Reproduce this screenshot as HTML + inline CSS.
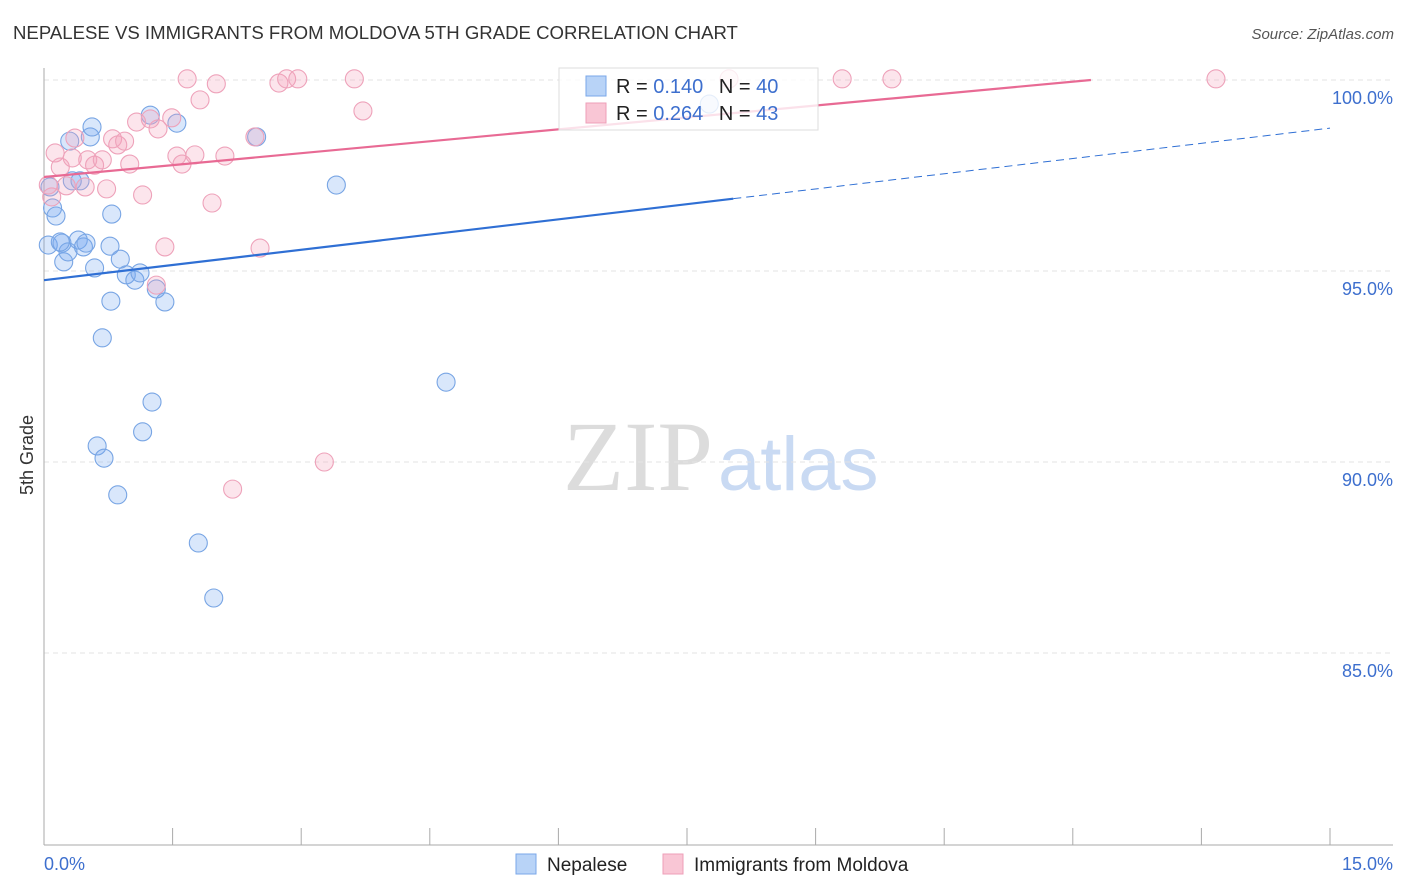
<!DOCTYPE html>
<html><head><meta charset="utf-8"><style>
body{margin:0;background:#fff;font-family:"Liberation Sans",sans-serif;}
svg{display:block}
</style></head><body>
<svg id="c" width="1406" height="892" xmlns="http://www.w3.org/2000/svg">
<text x="13" y="39" font-size="18.6" fill="#333">NEPALESE VS IMMIGRANTS FROM MOLDOVA 5TH GRADE CORRELATION CHART</text>
<text x="1394" y="39" font-size="15" fill="#555" text-anchor="end" font-style="italic">Source: ZipAtlas.com</text>
<text x="713" y="490" font-size="100" fill="#dcdcdc" text-anchor="end" font-family="Liberation Serif, serif">ZIP</text>
<text x="718" y="490" font-size="76" fill="#c9daf3">atlas</text>
<text transform="translate(33,455) rotate(-90)" font-size="18" fill="#333" text-anchor="middle">5th Grade</text>
<g id="grid"></g>
<g id="marks"></g>
<g>
<rect x="559" y="68" width="259" height="62" fill="#fff" fill-opacity="0.8" stroke="#ddd"/>
<rect x="586" y="76" width="20" height="20" fill="#b8d3f7" stroke="#7aa7e8"/>
<rect x="586" y="103" width="20" height="20" fill="#f9c6d5" stroke="#ee9fb8"/>
<text x="616" y="93" font-size="20" fill="#222">R = <tspan fill="#3d6fce">0.140</tspan>  <tspan dx="10">N = </tspan><tspan fill="#3d6fce">40</tspan></text>
<text x="616" y="120" font-size="20" fill="#222">R = <tspan fill="#3d6fce">0.264</tspan>  <tspan dx="10">N = </tspan><tspan fill="#3d6fce">43</tspan></text>
</g>
<g>
<rect x="516" y="854" width="20" height="20" fill="#b8d3f7" stroke="#7aa7e8"/>
<text x="547" y="871" font-size="19" fill="#222">Nepalese</text>
<rect x="663" y="854" width="20" height="20" fill="#f9c6d5" stroke="#ee9fb8"/>
<text x="694" y="871" font-size="19" fill="#222">Immigrants from Moldova</text>
</g>
</svg>
<script>
const yTicks=[100,95,90,85];
const xTickLabels=["0.0%","15.0%"];
const blueX=[0.05,0.07,0.10,0.14,0.21,0.23,0.28,0.30,0.33,0.40,0.42,0.46,0.49,0.54,0.56,0.59,0.62,0.68,0.70,0.77,0.78,0.79,0.86,0.89,0.96,1.06,1.12,1.15,1.24,1.26,1.31,1.41,1.55,1.80,1.98,2.48,3.41,4.69,7.76,0.19];
const blueY=[95.68,97.20,96.65,96.44,95.73,95.24,95.50,98.40,97.36,95.81,97.36,95.63,95.73,98.51,98.77,95.08,90.42,93.25,90.10,95.65,94.21,96.49,89.14,95.31,94.90,94.76,94.95,90.79,99.08,91.57,94.53,94.19,98.87,87.88,86.44,98.51,97.25,92.09,99.37,95.76];
const pinkX=[0.13,0.05,0.09,0.19,0.26,0.33,0.36,0.48,0.51,0.59,0.68,0.73,0.80,0.86,0.94,1.00,1.08,1.15,1.24,1.33,1.41,1.49,1.55,1.61,1.67,1.76,1.82,1.96,2.01,2.11,2.20,2.46,2.52,2.74,2.83,2.96,3.27,3.62,3.72,7.99,9.31,9.89,13.67,1.31];
const pinkY=[98.09,97.25,96.94,97.72,97.23,97.96,98.48,97.20,97.91,97.77,97.91,97.15,98.46,98.30,98.40,97.80,98.90,96.99,98.98,98.72,95.63,99.01,98.01,97.80,100.03,98.04,99.48,96.78,99.90,98.01,89.29,98.51,95.60,99.92,100.03,100.03,90.00,100.03,99.19,100.03,100.03,100.03,100.03,94.63];
const blueTrend=[94.76,98.74];
const blueSolidEnd=8.04;
const pinkTrend=[97.46,0.208];
const NS="http://www.w3.org/2000/svg";
const X=v=>44+v/15*1286, Y=v=>80+(100-v)*38.2;
function mk(t,a,p){const e=document.createElementNS(NS,t);for(const k in a)e.setAttribute(k,a[k]);p.appendChild(e);return e;}
const g=document.getElementById('grid'),m=document.getElementById('marks');
yTicks.forEach(t=>{
 const l=mk('line',{x1:44,x2:1393,y1:Y(t),y2:Y(t),stroke:'#e3e3e3','stroke-dasharray':'5,4'},g);
 
 
 const tx=mk('text',{x:1393,y:Y(t)+24,'font-size':18,fill:'#3d6fce','text-anchor':'end'},g);
 tx.textContent=t.toFixed(1)+'%';
 
 
});
const ax=mk('line',{x1:44,x2:44,y1:68,y2:845,stroke:'#aaa'},g);


const bx=mk('line',{x1:44,x2:1393,y1:845,y2:845,stroke:'#aaa'},g);


for(let i=0;i<=10;i++){const t=mk('line',{x1:X(i*1.5),x2:X(i*1.5),y1:828,y2:845,stroke:'#aaa'},g);
 
 }
xTickLabels.forEach((s,i)=>{const t=mk('text',{x:i?1393:44,y:870,'font-size':18,fill:'#3d6fce','text-anchor':i?'end':'start'},g);t.textContent=s;
 
 });
function dots(xs,ys,fill,stroke,name){xs.forEach((x,i)=>{const c=mk('circle',{cx:X(x),cy:Y(ys[i]),r:9,fill:fill,stroke:stroke,'stroke-width':1.1},m);
 
 });}
dots(blueX,blueY,'rgba(120,170,240,0.28)','#78a5e4','nepalese-point');
dots(pinkX,pinkY,'rgba(245,160,188,0.28)','#eea2ba','moldova-point');
const bv=x=>blueTrend[0]+(blueTrend[1]-blueTrend[0])*x/15;
const b1=mk('line',{x1:X(0),y1:Y(bv(0)),x2:X(blueSolidEnd),y2:Y(bv(blueSolidEnd)),stroke:'#2f6fd4','stroke-width':2.2},m);


const b2=mk('line',{x1:X(blueSolidEnd),y1:Y(bv(blueSolidEnd)),x2:X(15),y2:Y(bv(15)),stroke:'#2f6fd4','stroke-width':1,'stroke-dasharray':'8,5'},m);


const pEnd=Math.min(15,(100-pinkTrend[0])/pinkTrend[1]);
const p1=mk('line',{x1:X(0),y1:Y(pinkTrend[0]),x2:X(pEnd),y2:Y(pinkTrend[0]+pinkTrend[1]*pEnd),stroke:'#e86a94','stroke-width':2.2},m);


</script>
</body></html>
